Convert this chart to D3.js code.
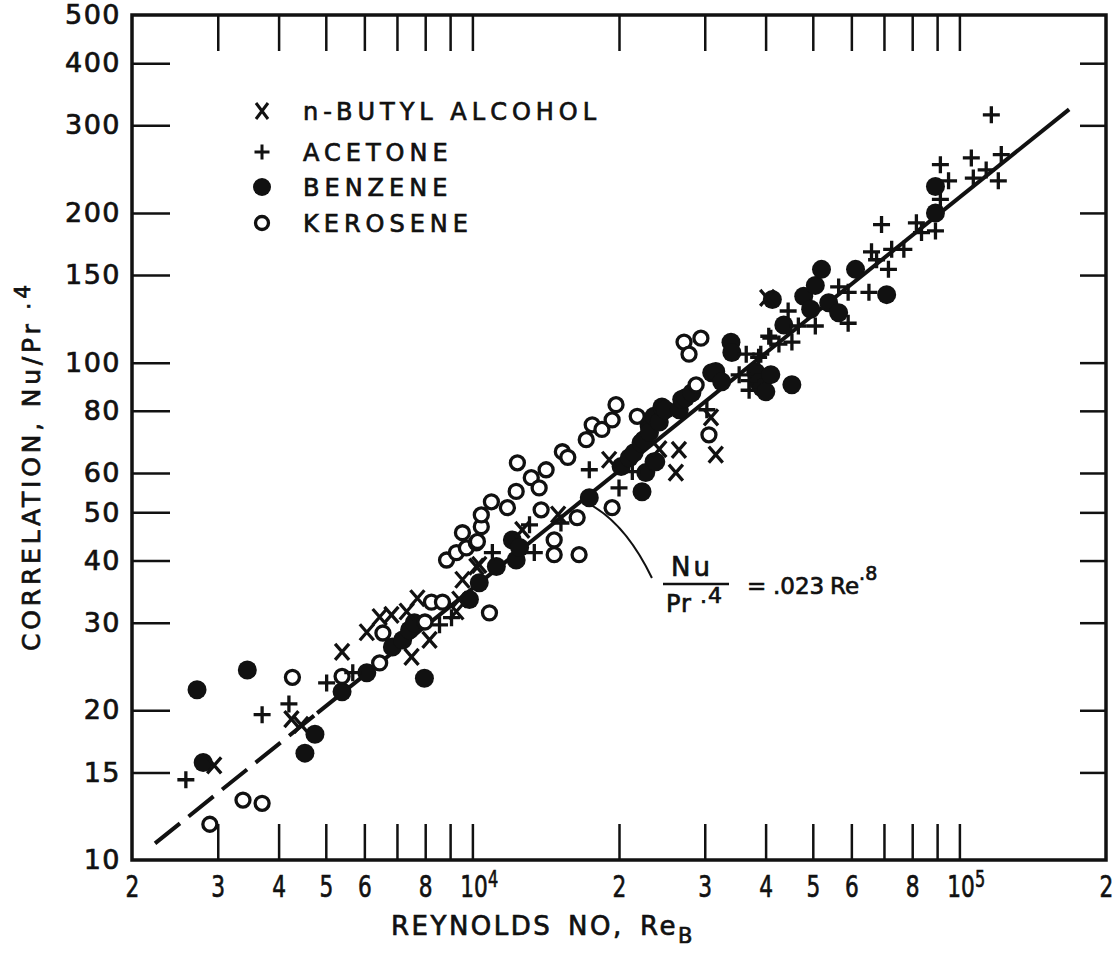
<!DOCTYPE html>
<html>
<head>
<meta charset="utf-8">
<script src="https://cdn.jsdelivr.net/npm/d3@7"></script>
<style>
  body { margin: 0; background: #fff; }
  text { font-family: "DejaVu Sans", sans-serif; fill: #111; stroke: #111; stroke-width: 0.7; }
</style>
</head>
<body>
<svg id="chart" width="1118" height="955"></svg>
<script>
// [Reynolds no, Nu/Pr^.4]
const butyl = [
  [4250, 19.2], [4450, 18.7], [2950, 15.5], [5400, 26.2], [7500, 25.6], [6070, 28.7],
  [6450, 30.8], [6820, 31.1], [7330, 31.6], [7710, 33.6], [8165, 27.7], [9270, 31.6],
  [9400, 33.4], [9540, 36.6], [10330, 39.2], [10190, 38.9], [12660, 46.1], [15000, 49.5],
  [19090, 63.8], [24200, 67], [26550, 66.8], [26170, 60.1], [31600, 65.3], [30900, 77.6],
  [40300, 135]
];
const acetone = [
  [3700, 19.6], [4200, 20.6], [2580, 14.5], [5020, 22.7], [5680, 23.8], [8560, 29.7],
  [9060, 30.7], [10990, 41.5], [13100, 47.2], [13400, 41.5], [15200, 47.6], [17380, 60.9],
  [20000, 56.0], [21300, 60.4], [30300, 80.4], [35300, 94.5], [36500, 104], [37000, 92],
  [37000, 88], [38700, 102.5], [39100, 104], [40600, 113], [41000, 112], [42600, 109],
  [44500, 127], [45300, 110], [46700, 118.5], [50600, 118.5], [56500, 142], [59100, 120],
  [59100, 138.5], [65200, 138.5], [66000, 167], [67600, 161], [69200, 189.5], [71500, 154],
  [72600, 169], [76900, 169], [81600, 191], [83600, 182.6], [89300, 184], [91400, 213],
  [91400, 250], [95000, 232], [105800, 258], [106800, 235], [113500, 244], [116300, 315],
  [120200, 232], [121900, 262]
];
const benzene = [
  [2720, 22], [3450, 24.1], [4750, 17.9], [4530, 16.4], [2800, 15.7], [5400, 21.8],
  [6070, 23.8], [7970, 23.2], [6850, 26.8], [7190, 27.7], [7430, 29.0], [7600, 30.0],
  [9860, 33.4], [10330, 36.1], [11200, 38.9], [12080, 44.0], [12300, 40.1], [12500, 42.5],
  [17380, 53.5], [20200, 61.8], [21000, 64.4], [21480, 65.9], [22200, 69.0], [22300, 55.0],
  [22500, 70.0], [22700, 60.1], [23060, 74.6], [23100, 72.4], [23600, 78.0], [23600, 63.2],
  [23800, 63.2], [24200, 76.0], [24500, 81.4], [24900, 80.4], [26600, 80.4], [26900, 84.3],
  [27400, 85.0], [28230, 87.0], [31000, 95.4], [31600, 96], [32500, 91.5], [33960, 109.9],
  [34100, 104.8], [38200, 95.7], [38730, 91.2], [39300, 89.0], [40040, 87.4], [41000, 94.6],
  [41300, 134], [43600, 119], [45290, 90.3], [47900, 136], [49500, 128], [50600, 143],
  [52100, 154], [53900, 132], [56500, 126], [61200, 154], [70900, 137], [89300, 200],
  [89300, 226]
];
const kerosene = [
  [4270, 23.3], [3380, 13.2], [3700, 13.0], [2890, 11.8], [5400, 23.4], [6450, 24.9],
  [6550, 28.6], [7990, 30.1], [8240, 33.0], [8680, 33.0], [10840, 31.4], [8850, 40.1],
  [9270, 41.5], [9720, 42.4], [10190, 43.4], [9540, 45.5], [10240, 43.7], [10430, 46.8],
  [10430, 49.4], [10940, 52.5], [11800, 51.1], [12300, 55.1], [12370, 62.9], [13210, 58.7],
  [13710, 56.0], [13840, 50.6], [14170, 60.9], [14720, 44.0], [14720, 41.1], [15300, 66.2],
  [15700, 64.5], [16410, 48.8], [16560, 41.1], [17130, 70.0], [17620, 75.0], [18450, 73.4],
  [19360, 76.7], [19720, 82.3], [19360, 51.1], [21800, 78.0], [27200, 110], [27850, 104],
  [28800, 90.2], [29460, 112], [30600, 71.6]
];

// correlation line Nu/Pr^.4 = .023 Re^.8, ends
const corrLine = [[2230, 10.8], [168000, 323]];
const dashedUntil = 4800;
const leader = [[16950, 52.6], [20470, 48.3], [23370, 36.9]];

const xTickVals = [3000, 4000, 5000, 6000, 7000, 8000, 9000, 10000, 20000, 30000, 40000,
  50000, 60000, 70000, 80000, 90000, 100000];
const xLabelVals = [2000, 3000, 4000, 5000, 6000, 8000, 10000, 20000, 30000, 40000, 50000,
  60000, 80000, 100000, 200000];
const yTickVals = [15, 20, 30, 40, 50, 60, 80, 100, 150, 200, 300, 400];
const yLabelVals = [10, 15, 20, 30, 40, 50, 60, 80, 100, 150, 200, 300, 400, 500];
const legendNames = ["n-BUTYL ALCOHOL", "ACETONE", "BENZENE", "KEROSENE"];

const svg = d3.select("#chart");
const mLeft = 132, mRight = 1106, mTop = 15, mBottom = 860;

const x = d3.scaleLog().domain([2000, 200000]).range([mLeft, mRight]);
const y = d3.scaleLog().domain([10, 500]).range([mBottom, mTop]);

// markers
const timesPath = "M-7,-8L7,8M-7,8L7,-8";
const plusPath = "M-8.5,0L8.5,0M0,-8.5L0,8.5";

// ticks (inward)
const tickAxis = (axis, tr, len) => {
  const g = svg.append("g").attr("transform", tr).call(axis.tickSize(-len).tickFormat(""));
  g.select(".domain").remove();
  g.selectAll(".tick line").attr("stroke", "#111").attr("stroke-width", 2.5);
};
tickAxis(d3.axisBottom(x).tickValues(xTickVals), `translate(0,${mBottom})`, 36);
tickAxis(d3.axisTop(x).tickValues(xTickVals), `translate(0,${mTop})`, 36);
tickAxis(d3.axisLeft(y).tickValues(yTickVals), `translate(${mLeft},0)`, 38);
tickAxis(d3.axisRight(y).tickValues(yTickVals), `translate(${mRight},0)`, 26);

// frame
svg.append("rect")
  .attr("x", mLeft).attr("y", mTop)
  .attr("width", mRight - mLeft).attr("height", mBottom - mTop)
  .attr("fill", "none").attr("stroke", "#111").attr("stroke-width", 3.5);

// x labels
const xl = svg.append("g").attr("transform", `translate(0,${mBottom})`)
  .call(d3.axisBottom(x).tickValues(xLabelVals).tickSize(0).tickPadding(15)
    .tickFormat(d => {
      const e = Math.floor(Math.log10(d) + 1e-9);
      const m = Math.round(d / Math.pow(10, e));
      return m === 1 ? "10" : String(m);
    }));
xl.select(".domain").remove();
xl.selectAll("text")
  .attr("font-size", 31)
  .attr("fill", "#111")
  .attr("font-family", "DejaVu Sans, sans-serif")
  .attr("transform", "scale(0.7,1)")
  .each(function(d) {
    const e = Math.floor(Math.log10(d) + 1e-9);
    const m = Math.round(d / Math.pow(10, e));
    if (m === 1) {
      d3.select(this).attr("text-anchor", "start").attr("x", -18)
        .append("tspan").attr("dy", "-0.45em").attr("font-size", 23).text(e);
    }
  });

// y labels
const yl = svg.append("g").attr("transform", `translate(${mLeft},0)`)
  .call(d3.axisLeft(y).tickValues(yLabelVals).tickSize(0).tickPadding(11).tickFormat(d3.format("d")));
yl.select(".domain").remove();
yl.selectAll("text")
  .attr("font-size", 27)
  .attr("letter-spacing", 1.5)
  .attr("fill", "#111")
  .attr("font-family", "DejaVu Sans, sans-serif");

// correlation line
const k = Math.log(corrLine[1][1] / corrLine[0][1]) / Math.log(corrLine[1][0] / corrLine[0][0]);
const lineVal = re => corrLine[0][1] * Math.pow(re / corrLine[0][0], k);
const lineGen = d3.line().x(d => x(d[0])).y(d => y(d[1]));
svg.append("path")
  .datum([corrLine[0], [dashedUntil, lineVal(dashedUntil)]])
  .attr("d", lineGen)
  .attr("fill", "none").attr("stroke", "#111").attr("stroke-width", 4)
  .attr("stroke-dasharray", "32,11");
svg.append("path")
  .datum([[dashedUntil, lineVal(dashedUntil)], corrLine[1]])
  .attr("d", lineGen)
  .attr("fill", "none").attr("stroke", "#111").attr("stroke-width", 4);

// leader to equation
svg.append("path")
  .attr("d", `M${x(leader[0][0])},${y(leader[0][1])}Q${x(leader[1][0])},${y(leader[1][1])} ${x(leader[2][0])},${y(leader[2][1])}`)
  .attr("fill", "none").attr("stroke", "#111").attr("stroke-width", 2);

// points
svg.append("g").selectAll("circle")
  .data(benzene).join("circle")
  .attr("cx", d => x(d[0])).attr("cy", d => y(d[1]))
  .attr("r", 9.5).attr("fill", "#111");

svg.append("g").selectAll("circle")
  .data(kerosene).join("circle")
  .attr("cx", d => x(d[0])).attr("cy", d => y(d[1]))
  .attr("r", 7).attr("fill", "#fff").attr("stroke", "#111").attr("stroke-width", 3.3);

svg.append("g").selectAll("path")
  .data(butyl).join("path")
  .attr("transform", d => `translate(${x(d[0])},${y(d[1])})`)
  .attr("d", timesPath).attr("stroke", "#111").attr("stroke-width", 3.3).attr("fill", "none");

svg.append("g").selectAll("path")
  .data(acetone).join("path")
  .attr("transform", d => `translate(${x(d[0])},${y(d[1])})`)
  .attr("d", plusPath).attr("stroke", "#111").attr("stroke-width", 3.3).attr("fill", "none");

// legend
const legY = [111, 152, 187, 223];
const leg = svg.append("g");
legendNames.forEach((name, i) => {
  const g = leg.append("g").attr("transform", `translate(262,${legY[i]})`);
  if (i === 0) g.append("path").attr("d", "M-6,-8L6,8M-6,8L6,-8").attr("stroke", "#111").attr("stroke-width", 3);
  if (i === 1) g.append("path").attr("d", "M-7.5,0L7.5,0M0,-7.5L0,7.5").attr("stroke", "#111").attr("stroke-width", 3);
  if (i === 2) g.append("circle").attr("r", 9).attr("fill", "#111");
  if (i === 3) g.append("circle").attr("r", 6.5).attr("fill", "#fff").attr("stroke", "#111").attr("stroke-width", 3.3);
  g.append("text").attr("x", 41).attr("y", 9)
    .attr("font-size", 24).attr("letter-spacing", 5).text(name);
});

// equation
const eq = svg.append("g");
eq.append("text").attr("x", 692).attr("y", 576).attr("text-anchor", "middle")
  .attr("font-size", 26).attr("letter-spacing", 3).text("Nu");
eq.append("line").attr("x1", 663).attr("x2", 729).attr("y1", 584).attr("y2", 584)
  .attr("stroke", "#111").attr("stroke-width", 2.5);
const pr = eq.append("text").attr("x", 666).attr("y", 612).attr("font-size", 24).attr("letter-spacing", 1);
pr.append("tspan").text("Pr");
pr.append("tspan").attr("dy", -9).attr("font-size", 22).text(" .4");
const rhs = eq.append("text").attr("y", 594).attr("font-size", 23);
rhs.append("tspan").attr("x", 747).text("=");
rhs.append("tspan").attr("x", 773).text(".023");
rhs.append("tspan").attr("x", 830).text("Re");
rhs.append("tspan").attr("dy", -14).attr("font-size", 19).text(".8");

// axis titles
const xt = svg.append("text").attr("y", 935)
  .attr("font-size", 26).attr("letter-spacing", 2.5);
xt.append("tspan").attr("x", 391).text("REYNOLDS");
xt.append("tspan").attr("x", 568).text("NO,");
xt.append("tspan").attr("x", 640).text("Re");
xt.append("tspan").attr("dy", 8).attr("font-size", 21).text("B");

const yt = svg.append("text")
  .attr("transform", "translate(40,466) rotate(-90)")
  .attr("text-anchor", "middle")
  .attr("font-size", 25).attr("letter-spacing", 3.8);
yt.append("tspan").text("CORRELATION, Nu/Pr");
yt.append("tspan").attr("dy", -10).attr("font-size", 22).text(" .4");
</script>
</body>
</html>
